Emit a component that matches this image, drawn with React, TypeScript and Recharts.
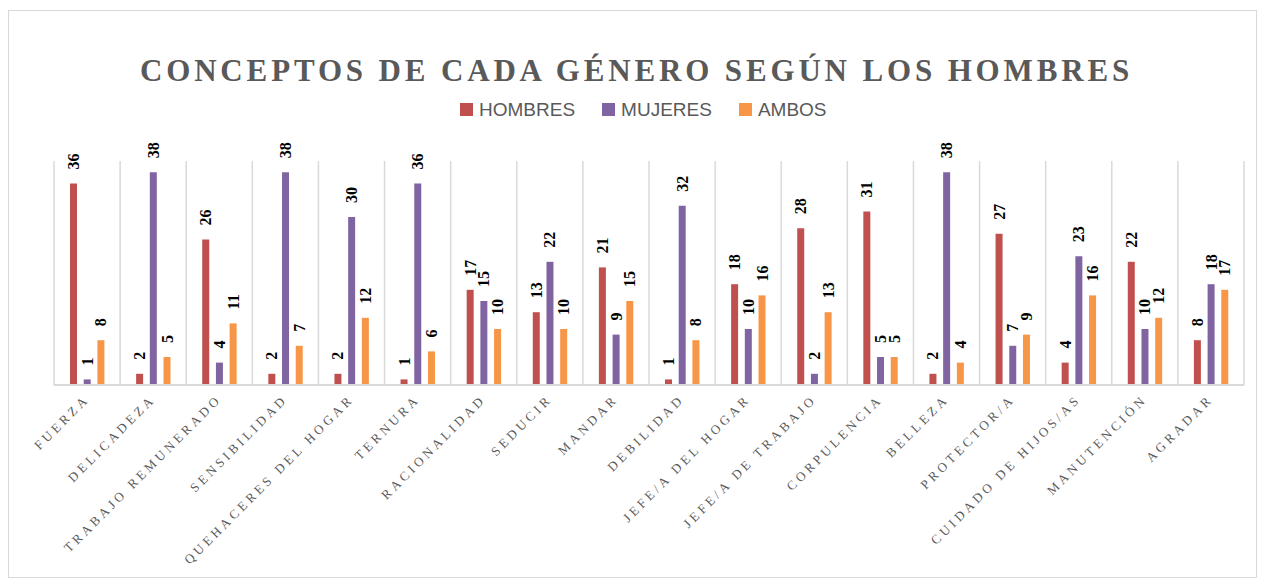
import { BarChart, Bar, XAxis, YAxis, CartesianGrid, LabelList } from "recharts";

const categories = [
  "FUERZA",
  "DELICADEZA",
  "TRABAJO REMUNERADO",
  "SENSIBILIDAD",
  "QUEHACERES DEL HOGAR",
  "TERNURA",
  "RACIONALIDAD",
  "SEDUCIR",
  "MANDAR",
  "DEBILIDAD",
  "JEFE/A DEL HOGAR",
  "JEFE/A DE TRABAJO",
  "CORPULENCIA",
  "BELLEZA",
  "PROTECTOR/A",
  "CUIDADO DE HIJOS/AS",
  "MANUTENCIÓN",
  "AGRADAR",
];
const hombres = [36, 2, 26, 2, 2, 1, 17, 13, 21, 1, 18, 28, 31, 2, 27, 4, 22, 8];
const mujeres = [1, 38, 4, 38, 30, 36, 15, 22, 9, 32, 10, 2, 5, 38, 7, 23, 10, 18];
const ambos = [8, 5, 11, 7, 12, 6, 10, 10, 15, 8, 16, 13, 5, 4, 9, 16, 12, 17];

const series = [
  { key: "hombres", name: "HOMBRES", color: "#C0504D" },
  { key: "mujeres", name: "MUJERES", color: "#8064A2" },
  { key: "ambos", name: "AMBOS", color: "#F79646" },
];

const data = categories.map((name, i) => ({
  name,
  hombres: hombres[i],
  mujeres: mujeres[i],
  ambos: ambos[i],
}));

const serif = '"Liberation Serif", "Times New Roman", serif';

const CategoryTick = (props: any) => {
  const { x, y, payload } = props;
  const ax = x + 3;
  const ay = y + 7;
  return (
    <text
      x={ax}
      y={ay}
      transform={`rotate(-45, ${ax}, ${ay})`}
      textAnchor="end"
      fill="#595959"
      fontFamily={serif}
      fontSize={13}
      style={{ letterSpacing: "3.5px" }}
    >
      {payload.value}
    </text>
  );
};

const ValueLabel = (props: any) => {
  const { x, y, width, value } = props;
  const lx = x + width / 2 + 5.5;
  const ly = y - 14;
  return (
    <text
      x={lx}
      y={ly}
      transform={`rotate(-90, ${lx}, ${ly})`}
      textAnchor="start"
      fill="#000"
      fontFamily={serif}
      fontWeight="bold"
      fontSize={16}
    >
      {value}
    </text>
  );
};

export default function App() {
  return (
    <div
      style={{
        position: "absolute",
        left: 8,
        top: 10,
        width: 1249,
        height: 568,
        boxSizing: "border-box",
        border: "1px solid #d9d9d9",
        background: "#fff",
      }}
    >
      <div
        style={{
          position: "absolute",
          left: 0,
          top: 44,
          width: "100%",
          textAlign: "center",
          fontFamily: serif,
          fontWeight: "bold",
          fontSize: 31,
          lineHeight: "31px",
          letterSpacing: "3.85px",
          paddingLeft: 8,
          boxSizing: "border-box",
          color: "#595959",
        }}
      >
        CONCEPTOS DE CADA GÉNERO SEGÚN LOS HOMBRES
      </div>
      <div
        style={{
          position: "absolute",
          left: 451,
          top: 89,
          display: "flex",
          alignItems: "center",
          fontFamily: '"Liberation Sans", Arial, sans-serif',
          fontSize: 19,
          lineHeight: "19px",
          color: "#595959",
        }}
      >
        {series.map((s) => (
          <div key={s.key} style={{ display: "flex", alignItems: "center", marginRight: 27 }}>
            <span style={{ width: 13, height: 13, background: s.color, marginRight: 6 }} />
            <span>{s.name}</span>
          </div>
        ))}
      </div>
      <BarChart
        width={1247}
        height={566}
        data={data}
        margin={{ top: 150, right: 12, bottom: 5, left: 45 }}
        barSize={7}
        barGap={6.7}
      >
        <CartesianGrid
          horizontal={false}
          vertical={true}
          stroke="#d9d9d9"
          strokeWidth={1.5}
          verticalCoordinatesGenerator={({ offset }: any) =>
            Array.from(
              { length: categories.length + 1 },
              (_, i) => offset.left + (i * offset.width) / categories.length
            )
          }
        />
        <XAxis
          dataKey="name"
          interval={0}
          height={187}
          tickLine={false}
          axisLine={{ stroke: "#d9d9d9", strokeWidth: 2 }}
          tick={<CategoryTick />}
        />
        <YAxis hide domain={[0, 40]} />
        {series.map((s) => (
          <Bar key={s.key} dataKey={s.key} name={s.name} fill={s.color} isAnimationActive={false}>
            <LabelList dataKey={s.key} content={<ValueLabel />} />
          </Bar>
        ))}
      </BarChart>
    </div>
  );
}
